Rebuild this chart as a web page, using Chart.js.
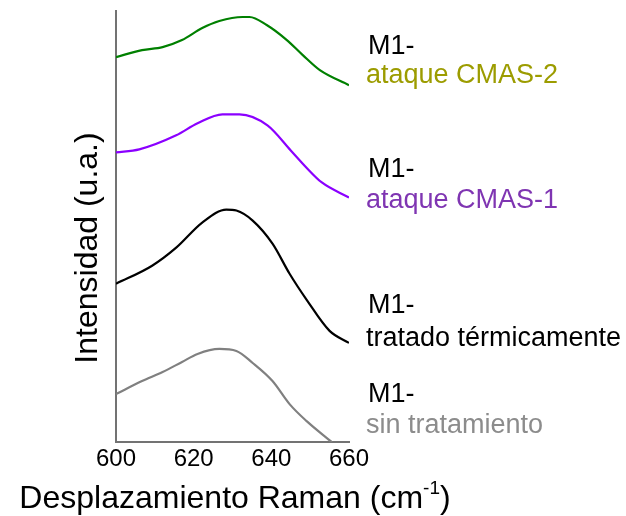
<!DOCTYPE html>
<html>
<head>
<meta charset="utf-8">
<script src="https://cdn.jsdelivr.net/npm/chart.js@4"></script>
<style>
  html, body { margin: 0; padding: 0; background: #fff; }
  #wrap { width: 626px; height: 516px; }
</style>
</head>
<body>
<div id="wrap"><canvas id="raman"></canvas></div>
<script>
  // Raman shift ticks
  const xTicks = [600, 620, 640, 660];

  // M1- ataque CMAS-2 (green, top)
  const xCmas2 = [600, 606.7, 612, 617, 622.2, 626.6, 632.6, 634.4, 638.8, 644, 648.1, 652.5, 660];
  const yCmas2 = [384, 391, 394, 401, 413, 420, 424, 424, 416, 401, 386, 371, 356];

  // M1- ataque CMAS-1 (purple)
  const xCmas1 = [600, 606, 615.5, 621, 627.4, 631.8, 639, 645, 649, 653, 660];
  const yCmas1 = [289, 292, 306, 318, 327, 327, 316, 291, 274, 259, 244];

  // M1- tratado termicamente (black)
  const xTermico = [600, 609.3, 615.5, 622.2, 628.4, 631, 635.2, 640.3, 644.7, 649.1, 655, 660];
  const yTermico = [158, 176, 194, 219, 232, 231, 221, 198, 168, 142, 111, 99];

  // M1- sin tratamiento (gray, bottom)
  const xSinTrat = [600, 606.7, 612, 617, 621, 626.6, 631, 635.2, 640.3, 644.7, 649.1, 655.6];
  const ySinTrat = [48, 61, 70, 80, 88, 93, 91, 79, 61, 38, 21, 0];

  const FONT = '"Liberation Sans", Arial, sans-serif';

  function pts(xs, ys) {
    return xs.map((x, i) => ({ x: x, y: ys[i] }));
  }

  function serie(label, xs, ys, color) {
    return {
      label: label,
      data: pts(xs, ys),
      borderColor: color,
      borderWidth: 2.2,
      pointRadius: 0,
      cubicInterpolationMode: 'monotone',
      fill: false
    };
  }

  // etiquetas a la derecha + titulos de ejes
  const textos = {
    id: 'textos',
    afterDraw(chart) {
      const ctx = chart.ctx;
      ctx.save();

      // etiquetas de las curvas
      const etiquetas = [
        { y1: 54, y2: 83, t: 'ataque CMAS-2', c: '#9c9c00' },
        { y1: 177, y2: 208, t: 'ataque CMAS-1', c: '#7f35b2' },
        { y1: 313, y2: 346, t: 'tratado térmicamente', c: '#000000' },
        { y1: 402, y2: 433, t: 'sin tratamiento', c: '#8c8c8c' }
      ];
      ctx.font = '27px ' + FONT;
      ctx.textAlign = 'left';
      ctx.textBaseline = 'alphabetic';
      etiquetas.forEach(e => {
        ctx.fillStyle = '#000';
        ctx.fillText('M1-', 368, e.y1);
        ctx.fillStyle = e.c;
        ctx.fillText(e.t, 366, e.y2);
      });

      // titulo eje Y
      ctx.fillStyle = '#000';
      ctx.font = '32px ' + FONT;
      ctx.translate(97, 248);
      ctx.rotate(-Math.PI / 2);
      ctx.textAlign = 'center';
      ctx.fillText('Intensidad (u.a.)', 0, 0);
      ctx.setTransform(1, 0, 0, 1, 0, 0);

      // titulo eje X con superindice
      const base = 'Desplazamiento Raman (cm';
      const sup = '-1';
      const fin = ')';
      ctx.font = '32px ' + FONT;
      const w1 = ctx.measureText(base).width;
      const w3 = ctx.measureText(fin).width;
      ctx.font = '19px ' + FONT;
      const w2 = ctx.measureText(sup).width;
      const total = w1 + w2 + w3;
      let x = 235 - total / 2;
      const yb = 508;
      ctx.textAlign = 'left';
      ctx.font = '32px ' + FONT;
      ctx.fillText(base, x, yb);
      x += w1;
      ctx.font = '19px ' + FONT;
      ctx.fillText(sup, x, yb - 14);
      x += w2;
      ctx.font = '32px ' + FONT;
      ctx.fillText(fin, x, yb);

      ctx.restore();
    }
  };

  new Chart(document.getElementById('raman'), {
    type: 'line',
    data: {
      datasets: [
        serie('M1- ataque CMAS-2', xCmas2, yCmas2, '#008000'),
        serie('M1- ataque CMAS-1', xCmas1, yCmas1, '#8b00ff'),
        serie('M1- tratado térmicamente', xTermico, yTermico, '#000000'),
        serie('M1- sin tratamiento', xSinTrat, ySinTrat, '#808080')
      ]
    },
    options: {
      responsive: true,
      maintainAspectRatio: false,
      animation: false,
      layout: {
        padding: { left: 116, right: 277, top: 11, bottom: 39 }
      },
      plugins: {
        legend: { display: false },
        tooltip: { enabled: false }
      },
      scales: {
        x: {
          type: 'linear',
          min: 600,
          max: 660,
          afterBuildTicks(axis) {
            axis.ticks = xTicks.map(v => ({ value: v }));
          },
          grid: { display: false, drawTicks: false },
          border: { display: true, color: '#737373', width: 2 },
          ticks: {
            color: '#000',
            font: { family: FONT, size: 24 },
            padding: 3,
            maxRotation: 0
          }
        },
        y: {
          min: 0,
          max: 430,
          grid: { display: false, drawTicks: false },
          border: { display: true, color: '#737373', width: 2 },
          ticks: { display: false }
        }
      }
    },
    plugins: [textos]
  });
</script>
</body>
</html>
